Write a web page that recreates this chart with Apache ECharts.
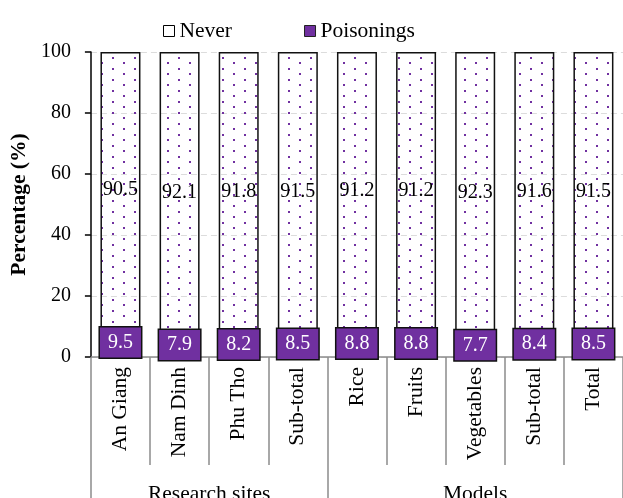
<!DOCTYPE html>
<html>
<head>
<meta charset="utf-8">
<script src="https://cdn.jsdelivr.net/npm/echarts@6/dist/echarts.min.js"></script>
<style>
  html, body { margin: 0; padding: 0; background: #fff; }
  #chart { width: 623px; height: 498px; }
</style>
</head>
<body>
<div id="chart"></div>
<script>
// Categories along the x axis and the two groups they belong to
const categories = ['An Giang', 'Nam Dinh', 'Phu Tho', 'Sub-total', 'Rice', 'Fruits', 'Vegetables', 'Sub-total', 'Total'];
const groupNames = ['Research sites', 'Models'];
const groupFirst = [0, 4];
const groupLast = [3, 8];

// Percentages per category
const never = [90.5, 92.1, 91.8, 91.5, 91.2, 91.2, 92.3, 91.6, 91.5];
const poisonings = [9.5, 7.9, 8.2, 8.5, 8.8, 8.8, 7.7, 8.4, 8.5];

// Value axis ticks
const yMin = 0, yMax = 100, yStep = 20;

const PURPLE = '#7030A0';
const FONT = 'Liberation Serif';
const TEXT_SIZE = 21.5;
const NUM_SIZE = 20;

// Sparse staggered dot fill for the "Never" segment
function dotPattern() {
  const c = document.createElement('canvas');
  c.width = 22; c.height = 11;
  const g = c.getContext('2d');
  g.fillStyle = PURPLE;
  g.fillRect(2, 2, 2, 2);
  g.fillRect(13, 7, 2, 2);
  return c;
}

const chart = echarts.init(document.getElementById('chart'), null, { renderer: 'canvas' });

const sepStyle = { color: '#8c8c8c', width: 1.5 };

const option = {
  animation: false,
  backgroundColor: '#fff',
  textStyle: { fontFamily: FONT },
  grid: { left: 87, top: 52, width: 545, height: 305, containLabel: false },
  legend: {
    left: 158, top: 15,
    itemWidth: 11, itemHeight: 11, itemGap: 72,
    icon: 'rect',
    textStyle: { fontFamily: FONT, fontSize: TEXT_SIZE, color: '#000' },
    data: [
      { name: 'Never', itemStyle: { color: '#fff', borderColor: '#000', borderWidth: 1 } },
      { name: 'Poisonings', itemStyle: { color: PURPLE, borderColor: '#222', borderWidth: 1 } }
    ]
  },
  xAxis: [
    {
      type: 'category',
      data: categories,
      axisLine: { show: true, lineStyle: sepStyle },
      axisTick: { show: true, length: 108, interval: 0, lineStyle: sepStyle },
      axisLabel: { interval: 0, rotate: 90, margin: 10, fontFamily: FONT, fontSize: TEXT_SIZE, color: '#000' },
      splitLine: { show: false }
    },
    {
      type: 'category',
      position: 'bottom',
      data: categories,
      axisLine: { show: false },
      axisTick: {
        show: true, length: 141, lineStyle: sepStyle,
        interval: function (i) { return groupFirst.indexOf(i) >= 0; }
      },
      axisLabel: { show: false },
      splitLine: { show: false }
    }
  ],
  yAxis: {
    type: 'value',
    min: yMin, max: yMax, interval: yStep,
    axisLine: { show: true, lineStyle: { color: '#000', width: 1.5 } },
    axisTick: { show: true, length: 6, lineStyle: { color: '#000', width: 1.5 } },
    axisLabel: { margin: 20, fontFamily: FONT, fontSize: NUM_SIZE, color: '#000' },
    splitLine: { show: true, lineStyle: { color: '#dcdcdc', type: [6, 4], width: 1 } },
    name: 'Percentage (%)',
    nameLocation: 'middle',
    nameGap: 51,
    nameTextStyle: { fontFamily: FONT, fontSize: TEXT_SIZE, fontWeight: 'bold', color: '#000' }
  },
  series: [
    {
      name: 'Poisonings',
      type: 'bar',
      stack: 'total',
      barWidth: 40,
      z: 3,
      data: poisonings,
      itemStyle: { color: PURPLE, borderColor: '#111', borderWidth: 1.5 },
      label: {
        show: true,
        position: 'inside',
        formatter: function (p) { return p.value.toFixed(1); },
        fontFamily: FONT, fontSize: NUM_SIZE, color: '#fff',
        textBorderWidth: 0,
        backgroundColor: PURPLE,
        borderColor: '#111', borderWidth: 1.5,
        width: 41, height: 30, lineHeight: 30, align: 'center', padding: 0
      }
    },
    {
      name: 'Never',
      type: 'bar',
      stack: 'total',
      barWidth: 40,
      z: 2,
      data: never,
      itemStyle: { color: { image: dotPattern(), repeat: 'repeat' }, borderColor: '#111', borderWidth: 1.5 },
      label: {
        show: true,
        position: 'inside',
        formatter: function (p) { return p.value.toFixed(1); },
        fontFamily: FONT, fontSize: NUM_SIZE, color: '#000',
        textBorderWidth: 0
      }
    }
  ]
};

chart.setOption(option);

// Group captions centred under their categories
const groupTexts = groupNames.map(function (name, k) {
  const a = chart.convertToPixel({ xAxisIndex: 0 }, groupFirst[k]);
  const b = chart.convertToPixel({ xAxisIndex: 0 }, groupLast[k]);
  return {
    type: 'text',
    x: (a + b) / 2,
    y: 494,
    style: { text: name, font: TEXT_SIZE + 'px "' + FONT + '"', fill: '#000', align: 'center', verticalAlign: 'middle' }
  };
});
chart.setOption({ graphic: groupTexts });
</script>
</body>
</html>
